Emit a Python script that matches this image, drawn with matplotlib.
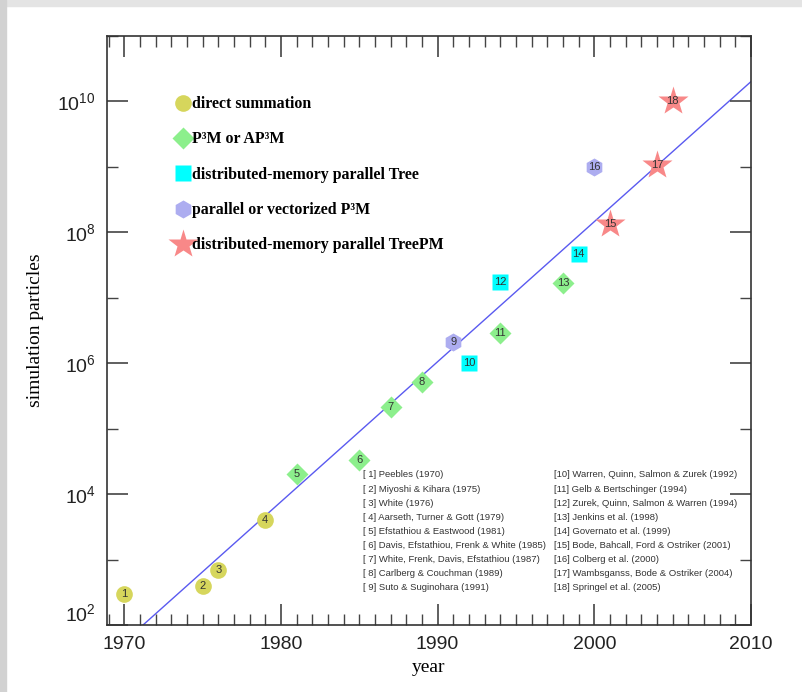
import numpy as np
import matplotlib
matplotlib.use("Agg")
import matplotlib.pyplot as plt
from matplotlib.lines import Line2D
from matplotlib.patches import Rectangle
from matplotlib import ticker

plt.rcParams['font.family'] = ['Liberation Sans', 'DejaVu Sans']
plt.rcParams['mathtext.fontset'] = 'custom'
plt.rcParams['mathtext.rm'] = 'Liberation Sans'
plt.rcParams['mathtext.it'] = 'Liberation Sans'

# simulations: number, year, particle count, method group
sim_id = [1, 2, 3, 4, 5, 6, 7, 8, 9, 10, 11, 12, 13, 14, 15, 16, 17, 18]
sim_year = [1970, 1975, 1976, 1979, 1981, 1985, 1987, 1989, 1991, 1992,
            1994, 1994, 1998, 1999, 2001, 2000, 2004, 2005]
sim_particles = [3.0e2, 4.0e2, 7.0e2, 4.0e3, 2.0e4, 3.3e4, 2.16e5, 5.2e5,
                 2.1e6, 1.0e6, 2.9e6, 1.72e7, 1.67e7, 4.7e7, 1.34e8,
                 1.0e9, 1.07e9, 1.0e10]
sim_method = [0, 0, 0, 0, 1, 1, 1, 1, 3, 2, 1, 2, 1, 2, 4, 3, 4, 4]

method_names = ["direct summation", "P³M or AP³M",
                "distributed-memory parallel Tree",
                "parallel or vectorized P³M",
                "distributed-memory parallel TreePM"]
method_markers = ["o", "D", "s", "h", "*"]
method_colors = ["#d6d65c", "#8cef8c", "#00ffff", "#adadf0", "#f88888"]
method_sizes = [12, 11.5, 12, 13, 22]

references = [
    "[ 1] Peebles (1970)",
    "[ 2] Miyoshi & Kihara (1975)",
    "[ 3] White (1976)",
    "[ 4] Aarseth, Turner & Gott (1979)",
    "[ 5] Efstathiou & Eastwood (1981)",
    "[ 6] Davis, Efstathiou, Frenk & White (1985)",
    "[ 7] White, Frenk, Davis, Efstathiou (1987)",
    "[ 8] Carlberg & Couchman (1989)",
    "[ 9] Suto & Suginohara (1991)",
    "[10] Warren, Quinn, Salmon & Zurek (1992)",
    "[11] Gelb & Bertschinger (1994)",
    "[12] Zurek, Quinn, Salmon & Warren (1994)",
    "[13] Jenkins et al. (1998)",
    "[14] Governato et al. (1999)",
    "[15] Bode, Bahcall, Ford & Ostriker (2001)",
    "[16] Colberg et al. (2000)",
    "[17] Wambsganss, Bode & Ostriker (2004)",
    "[18] Springel et al. (2005)",
]

# growth trend line: log10 N = trend_log0 + trend_slope * (year - trend_year0)
trend_year0 = 1971.2
trend_log0 = 2.0
trend_slope = 0.214

fig = plt.figure(figsize=(8.02, 6.92), dpi=100)
fig.patches.append(Rectangle((0, 0.991), 1, 0.009, transform=fig.transFigure,
                             color="#e4e4e4", zorder=-10))
fig.patches.append(Rectangle((0, 0), 0.008, 1, transform=fig.transFigure,
                             color="#d2d2d2", zorder=-10))
ax = fig.add_axes([0.1334, 0.0968, 0.8030, 0.8512])

yrs = np.array([1965.0, 2012.0])
ax.plot(yrs, 10 ** (trend_log0 + trend_slope * (yrs - trend_year0)),
        color="#5a5af0", lw=1.0, zorder=1)

year = np.array(sim_year)
npart = np.array(sim_particles)
meth = np.array(sim_method)
for m in range(len(method_names)):
    sel = meth == m
    ax.plot(year[sel], npart[sel], ls="none", marker=method_markers[m],
            ms=method_sizes[m], mfc=method_colors[m], mec="none", zorder=3)

for i, x, y in zip(sim_id, sim_year, sim_particles):
    ax.text(x, y, str(i), fontsize=8, color="#333333", ha="center",
            va="center", zorder=4)

ax.set_yscale("log")
ax.set_xlim(1968.9, 2010)
ax.set_ylim(1e2, 1e11)

ax.xaxis.set_major_locator(ticker.MultipleLocator(10))
ax.xaxis.set_minor_locator(ticker.MultipleLocator(1))
ax.yaxis.set_major_locator(ticker.FixedLocator([1e2, 1e4, 1e6, 1e8, 1e10]))
ax.yaxis.set_minor_locator(ticker.FixedLocator([1e3, 1e5, 1e7, 1e9, 1e11]))
ax.yaxis.set_minor_formatter(ticker.NullFormatter())
ax.tick_params(which="both", direction="in", top=True, right=True,
               color="#444444", labelsize=14, labelcolor="#222222")
ax.tick_params(which="major", length=15, width=1.2, pad=8)
ax.tick_params(which="minor", length=8, width=1.0)
ax.yaxis.get_major_ticks()[0].label1.set_verticalalignment("bottom")
for s in ax.spines.values():
    s.set_color("#333333")
    s.set_linewidth(1.2)

ax.set_xlabel("year", family="Liberation Serif", fontsize=14, labelpad=4)
ax.set_ylabel("simulation particles", family="Liberation Serif", fontsize=14,
              labelpad=10)

handles = [Line2D([], [], ls="none", marker=method_markers[m],
                  ms=method_sizes[m], mfc=method_colors[m], mec="none")
           for m in range(len(method_names))]
ax.legend(handles, method_names, loc="upper left", bbox_to_anchor=(0.083, 0.922),
          frameon=False, handlelength=1.0, handletextpad=0.1,
          labelspacing=1.22, prop={"family": "Liberation Serif",
                                   "weight": "bold", "size": 11.4})

for k, ref in enumerate(references):
    col = k // 9
    row = k % 9
    ax.text(0.3975 + col * 0.2965, 0.2547 - row * 0.0238, ref,
            transform=ax.transAxes, fontsize=6.8, color="#333333",
            va="center", ha="left")

fig.savefig("out.png", dpi=100)
